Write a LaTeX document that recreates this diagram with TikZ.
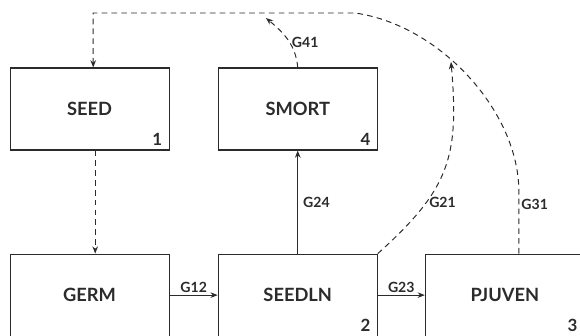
\documentclass[tikz,border=0pt]{standalone}
\usepackage{fontspec}
\setsansfont{Lato}
\usepackage{tikz}
\usepackage{xcolor}
\usetikzlibrary{arrows.meta,positioning}
\definecolor{ink}{HTML}{2B2B2B}
\tikzset{
  box/.style={draw=ink,line width=0.8pt,minimum width=3.975cm,minimum height=2.05cm,
              inner sep=0pt,font=\sffamily\bfseries\fontsize{13}{15}\selectfont,text=ink},
  numlabel/.style={anchor=south east,inner sep=0pt,
                   font=\sffamily\bfseries\fontsize{12}{14}\selectfont,text=ink},
  glabel/.style={inner sep=1.5pt,font=\sffamily\bfseries\fontsize{10}{12}\selectfont,text=ink},
  solidarr/.style={-{Stealth[length=1.8mm,width=1.4mm]},line width=0.7pt,draw=ink},
  dasharr/.style={-{Stealth[length=1.8mm,width=1.4mm]},line width=0.7pt,draw=ink,
                  dash pattern=on 4pt off 3pt}
}
\begin{document}
\begin{tikzpicture}[x=1cm,y=1cm]
    \path[use as bounding box] (0,0) rectangle (14.5,8.375);

    % compartments
    \node[box] (SEED) at (2.24,5.65) {SEED};
    \node[box,right=1.2cm of SEED] (SMORT) {SMORT};
    \node[box,below=2.575cm of SEED] (GERM) {GERM};
    \node[box,right=1.2cm of GERM] (SEEDLN) {SEEDLN};
    \node[box,right=1.175cm of SEEDLN] (PJUVEN) {PJUVEN};
    \foreach \bx/\nr in {SEED/1,SEEDLN/2,PJUVEN/3,SMORT/4}{
      \node[numlabel] (n\nr) at ([shift={(-0.18,0.12)}]\bx.south east) {\nr};
    }

    % flows
    \draw[dasharr] ([xshift=0.14cm]SEED.south) -- ([xshift=0.14cm]GERM.north);
    \draw[solidarr] (GERM) -- node[glabel,above] {G12} (SEEDLN);
    \draw[solidarr] (SEEDLN) -- node[glabel,above] {G23} (PJUVEN);
    \draw[solidarr] (SEEDLN) -- node[glabel,right=2pt] {G24} (SMORT);

    % feedback to seed
    \coordinate (toprt) at (8.875,8.05);
    \coordinate (seedin) at ([xshift=0.09cm]SEED.north);
    \coordinate (g21end) at (11.275,6.825);
    \coordinate (g41end) at (6.65,7.925);
    \draw[dasharr] ([xshift=0.35cm]PJUVEN.north) -- node[glabel,right,pos=0.8] {G31} ++(0,1.55)
      .. controls +(0,2) and +(2.125,-0.3) .. (toprt) -- (seedin |- toprt) -- (seedin);
    \draw[dasharr] (SEEDLN.north east) to[out=42,in=-85,looseness=1.2]
      node[glabel,right,pos=0.3] {G21} (g21end);
    \draw[dasharr] (SMORT.north) to[out=95,in=-40]
      node[glabel,right,pos=0.45] {G41} (g41end);
  \end{tikzpicture}
\end{document}
